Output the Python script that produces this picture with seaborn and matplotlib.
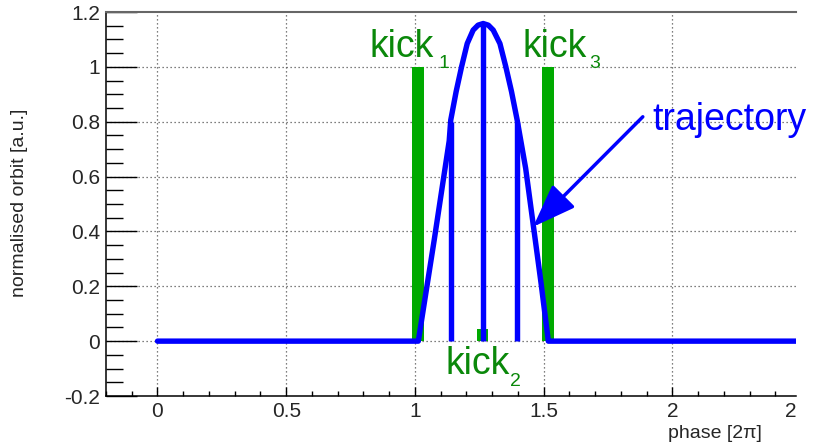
import matplotlib
matplotlib.use("Agg")
import matplotlib.pyplot as plt
import seaborn as sns
import numpy as np
import pandas as pd

# ---- data ----
traj_x = [0.0, 1.013, 1.075, 1.133, 1.139, 1.160, 1.181, 1.203, 1.226, 1.245, 1.265,
          1.285, 1.304, 1.330, 1.353, 1.375, 1.397, 1.430, 1.460, 1.490, 1.518, 2.6]
traj_y = [0.0, 0.0, 0.37, 0.73, 0.806, 0.91, 1.0, 1.085, 1.134, 1.152, 1.158,
          1.152, 1.134, 1.085, 1.0, 0.91, 0.806, 0.63, 0.42, 0.21, 0.0, 0.0]

bpm_x = [1.139, 1.265, 1.395]
bpm_y = [0.80, 1.16, 0.80]

kick_x = [1.011, 1.263, 1.517]
kick_y = [1.0, 0.043, 1.0]

xticks = [0, 0.5, 1, 1.5, 2]
xtick_labels = ["0", "0.5", "1", "1.5", "2"]
yticks = [-0.2, 0, 0.2, 0.4, 0.6, 0.8, 1.0, 1.2]
ytick_labels = ["-0.2", "0", "0.2", "0.4", "0.6", "0.8", "1", "1.2"]

sns.set_style("ticks")
plt.rcParams["font.family"] = ["Liberation Sans", "DejaVu Sans"]

BLUE = "#0000ff"
GREEN_BAR = "#00aa00"
GREEN_TXT = "#0a880a"

fig = plt.figure(figsize=(8.19, 4.46), dpi=100)
ax = fig.add_axes([106 / 819, 50 / 446, 690 / 819, 384 / 446])

XMIN, XMAX = -0.2, 2.48
ax.set_xlim(XMIN, XMAX)
ax.set_ylim(-0.2, 1.2)

# grid
for gx in xticks:
    ax.axvline(gx, color="#555555", lw=0.9, ls=(0, (1, 2.2)), zorder=0.5)
for gy in [0, 0.2, 0.4, 0.6, 0.8, 1.0]:
    ax.axhline(gy, color="#555555", lw=0.9, ls=(0, (1, 2.2)), zorder=0.5)

# kicks (green bars)
ax.bar(kick_x, kick_y, width=0.045, color=GREEN_BAR, align="center", zorder=2, linewidth=0)

# trajectory
df = pd.DataFrame({"phase": traj_x, "orbit": traj_y})
sns.lineplot(data=df, x="phase", y="orbit", ax=ax, sort=False, estimator=None,
             color=BLUE, lw=3.9, zorder=3, solid_joinstyle="round")
ax.vlines(bpm_x, 0, bpm_y, color=BLUE, lw=3.9, zorder=3)

# annotations
ax.text(0.825, 1.036, "kick", fontsize=27, color=GREEN_TXT, ha="left", va="baseline", zorder=4)
ax.text(1.093, 0.995, "1", fontsize=14, color=GREEN_TXT, ha="left", va="baseline", zorder=4)
ax.text(1.418, 1.036, "kick", fontsize=27, color=GREEN_TXT, ha="left", va="baseline", zorder=4)
ax.text(1.676, 0.995, "3", fontsize=14, color=GREEN_TXT, ha="left", va="baseline", zorder=4)
ax.text(1.120, -0.120, "kick", fontsize=27, color=GREEN_TXT, ha="left", va="baseline", zorder=4)
ax.text(1.369, -0.164, "2", fontsize=14, color=GREEN_TXT, ha="left", va="baseline", zorder=4)

ax.annotate("", xy=(1.459, 0.417), xytext=(1.885, 0.818),
            arrowprops=dict(arrowstyle="-|>,head_length=1.33,head_width=0.49",
                            mutation_scale=20, lw=2.5, color=BLUE,
                            shrinkA=0, shrinkB=0), zorder=5)
ax.text(1.924, 0.769, "trajectory", fontsize=27, color=BLUE, ha="left",
        va="baseline", clip_on=False, zorder=5)

# axes styling
ax.set_xticks(xticks)
ax.set_xticklabels(xtick_labels)
ax.set_yticks(yticks)
ax.set_yticklabels(ytick_labels)
ax.xaxis.set_minor_locator(matplotlib.ticker.MultipleLocator(0.1))
ax.yaxis.set_minor_locator(matplotlib.ticker.MultipleLocator(0.05))
ax.tick_params(axis="y", which="major", direction="in", length=22.3, width=1.0,
               labelsize=15, pad=4.3, color="black", right=False)
ax.tick_params(axis="y", which="minor", direction="in", length=12.2, width=1.0,
               color="black", right=False)
ax.tick_params(axis="x", which="major", direction="in", length=6.5, width=1.0,
               labelsize=15, pad=4.3, color="black", top=False)
ax.tick_params(axis="x", which="minor", direction="in", length=3.6, width=1.0,
               color="black", top=False)

for s in ["left", "bottom"]:
    ax.spines[s].set_color("black")
    ax.spines[s].set_linewidth(1.1)
ax.spines["top"].set_visible(True)
ax.spines["top"].set_color("#666666")
ax.spines["top"].set_linewidth(1.5)
ax.spines["right"].set_visible(False)

# partially visible last tick label at the cropped right edge
ax.annotate("2", xy=(XMAX, 0), xycoords=("data", "axes fraction"),
            xytext=(0, -4.3), textcoords="offset points", ha="right", va="top",
            fontsize=15, annotation_clip=False)

ax.set_xlabel("")
ax.set_ylabel("")
fig.text(20 / 819, 1 - 203 / 446, "normalised orbit [a.u.]", rotation=90,
         fontsize=14, ha="center", va="center")
fig.text(762 / 819, 1 - 434 / 446, "phase [2\u03c0]", fontsize=14,
         ha="right", va="center")

fig.savefig("out.png", dpi=100)
